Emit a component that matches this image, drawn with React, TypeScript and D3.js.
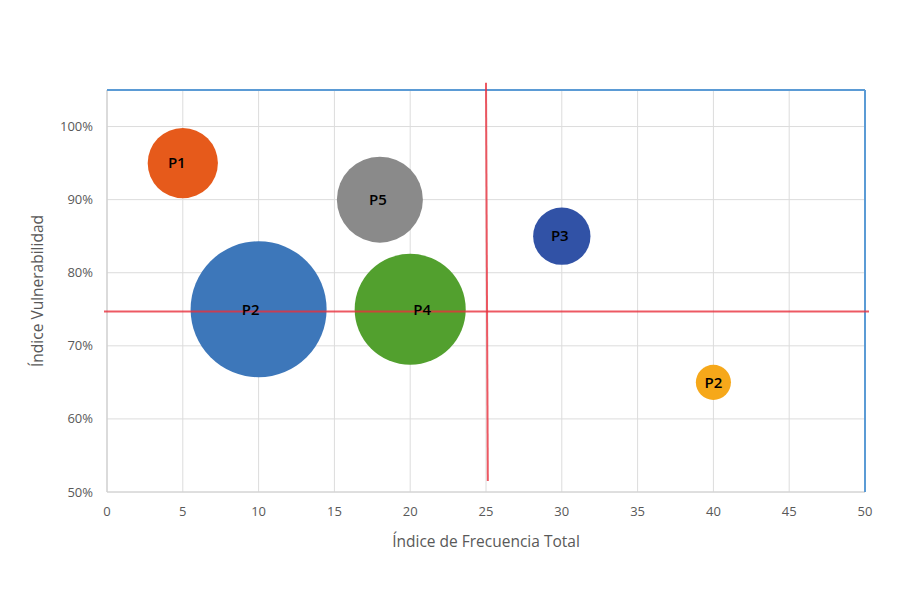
import React from "react";
import * as d3 from "d3";

const labels = ["P1", "P2", "P5", "P4", "P3", "P2"];
const freq = [5, 10, 18, 20, 30, 40];
const vuln = [0.95, 0.75, 0.9, 0.75, 0.85, 0.65];
const sizes = [12, 45, 18, 30, 8, 3];
const colors = ["#E65A1B", "#3D77BA", "#8A8A8A", "#52A02E", "#3152A6", "#F6A81A"];
const xTicks = [0, 5, 10, 15, 20, 25, 30, 35, 40, 45, 50];
const yTicks = [0.5, 0.6, 0.7, 0.8, 0.9, 1.0];
const refX = 25;
const refY = 0.747;

const W = 900;
const H = 600;
const left = 107;
const right = 865;
const top = 90;
const bottom = 492;

export default function App() {
  const x = d3.scaleLinear().domain([0, 50]).range([left, right]);
  const y = d3.scaleLinear().domain([0.5, 1.05]).range([bottom, top]);
  const r = d3.scaleSqrt().domain([0, 45]).range([0, 68]);
  const font = "'Open Sans', 'Liberation Sans', Arial, sans-serif";
  const tickColor = "#595959";
  const labelDx = [-6, -8, -2, 12, -2, 0];

  return (
    <svg width={W} height={H} style={{ position: "absolute", left: 0, top: 0, background: "#fff" }}>
      <rect x={0} y={0} width={W} height={H} fill="#fff" />
      {/* grid */}
      {xTicks.map((t) => (
        <line key={"gx" + t} x1={x(t)} x2={x(t)} y1={top} y2={bottom} stroke="#dcdcdc" strokeWidth={1} />
      ))}
      {yTicks.map((t) => (
        <line key={"gy" + t} x1={left} x2={right} y1={y(t)} y2={y(t)} stroke="#dcdcdc" strokeWidth={1} />
      ))}
      {/* axes */}
      <line x1={left} x2={left} y1={top} y2={bottom} stroke="#cfcfcf" strokeWidth={1.2} />
      <line x1={left} x2={right} y1={bottom} y2={bottom} stroke="#cfcfcf" strokeWidth={1.2} />
      {/* blue border top & right */}
      <line x1={left} x2={right} y1={top} y2={top} stroke="#5B9BD5" strokeWidth={2} />
      <line x1={right} x2={right} y1={top} y2={bottom} stroke="#5B9BD5" strokeWidth={2} />
      {/* bubbles */}
      {freq.map((f, i) => (
        <circle key={"b" + i} cx={x(f)} cy={y(vuln[i])} r={r(sizes[i])} fill={colors[i]} />
      ))}
      {/* reference lines */}
      <line x1={left - 3} x2={right + 4} y1={y(refY)} y2={y(refY)} stroke="#E8303C" strokeOpacity={0.8} strokeWidth={2} />
      <line x1={x(refX)} x2={x(refX + 0.12)} y1={y(1.06)} y2={y(0.515)} stroke="#E8303C" strokeOpacity={0.8} strokeWidth={2} />
      {/* labels */}
      {freq.map((f, i) => (
        <text key={"l" + i} x={x(f) + labelDx[i]} y={y(vuln[i])} dy="0.35em" textAnchor="middle" fontFamily={font} fontSize={15} fontWeight={600} fill="#000">
          {labels[i]}
        </text>
      ))}
      {/* tick labels */}
      {xTicks.map((t) => (
        <text key={"tx" + t} x={x(t)} y={bottom + 24} textAnchor="middle" fontFamily={font} fontSize={13} fill={tickColor}>
          {t}
        </text>
      ))}
      {yTicks.map((t) => (
        <text key={"ty" + t} x={left - 14} y={y(t)} dy="0.35em" textAnchor="end" fontFamily={font} fontSize={13} fill={tickColor}>
          {d3.format(".0%")(t)}
        </text>
      ))}
      {/* axis titles */}
      <text x={(left + right) / 2} y={547} textAnchor="middle" fontFamily={font} fontSize={15.5} fill={tickColor}>
        Índice de Frecuencia Total
      </text>
      <text transform={`translate(43, ${(top + bottom) / 2}) rotate(-90)`} textAnchor="middle" fontFamily={font} fontSize={15.5} fill={tickColor}>
        Índice Vulnerabilidad
      </text>
    </svg>
  );
}
